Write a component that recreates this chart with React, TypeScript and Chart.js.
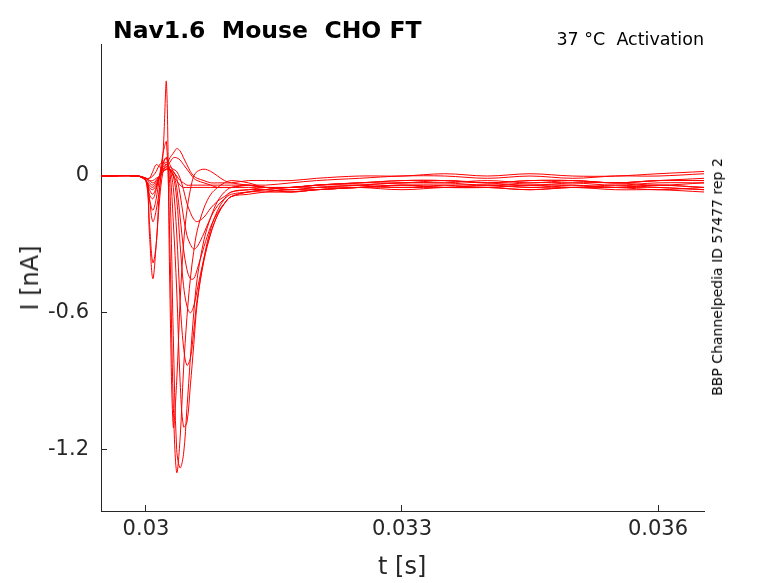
import React, { useEffect, useRef } from "react";
import { Chart, registerables } from "chart.js";
Chart.register(...registerables);

const times = [0.02948, 0.0299, 0.03, 0.03004, 0.03008, 0.03012, 0.03016, 0.0302, 0.03024, 0.03028, 0.03032, 0.03036, 0.0304, 0.03044, 0.03048, 0.03052, 0.03056, 0.0306, 0.03068, 0.03076, 0.03084, 0.03092, 0.031, 0.0312, 0.0314, 0.0317, 0.032, 0.0325, 0.033, 0.0335, 0.034, 0.0345, 0.035, 0.0355, 0.036, 0.03654];

const trace1 = [0, 0, -0.02, -0.25, -0.45, -0.3, -0.1, 0.02, 0.05, 0.03, 0, -0.02, -0.04, -0.05, -0.05, -0.05, -0.05, -0.05, -0.05, -0.05, -0.05, -0.05, -0.05, -0.05, -0.05, -0.06, -0.05, -0.04, -0.03, -0.03, -0.02, -0.03, -0.02, -0.03, -0.02, -0.01];
const trace2 = [0, 0, -0.02, -0.2, -0.38, -0.3, -0.05, 0.05, 0.08, 0.05, 0.02, 0, -0.02, -0.03, -0.04, -0.04, -0.04, -0.04, -0.04, -0.04, -0.04, -0.04, -0.04, -0.04, -0.05, -0.05, -0.04, -0.03, -0.02, -0.02, -0.03, -0.02, -0.02, -0.03, -0.02, -0.02];
const trace3 = [0, 0, -0.02, -0.1, -0.2, -0.15, -0.05, 0.1, 0.41, -0.5, -1.1, -0.9, -0.55, -0.3, -0.15, -0.06, 0, 0.02, 0.03, 0.02, 0, -0.02, -0.03, -0.04, -0.05, -0.05, -0.04, -0.03, -0.02, -0.02, -0.03, -0.02, -0.02, -0.03, -0.02, -0.02];
const trace4 = [0, 0, -0.02, -0.1, -0.15, -0.1, 0, 0.1, 0.15, -0.3, -1.0, -1.3, -1.15, -0.85, -0.62, -0.45, -0.33, -0.24, -0.14, -0.08, -0.05, -0.03, -0.02, -0.03, -0.05, -0.05, -0.04, -0.03, -0.03, -0.02, -0.03, -0.04, -0.03, -0.03, -0.04, -0.03];
const trace5 = [0, 0, -0.02, -0.08, -0.1, -0.06, 0, 0.06, 0.08, -0.05, -0.7, -1.2, -1.28, -1.22, -1.02, -0.8, -0.6, -0.45, -0.28, -0.18, -0.11, -0.07, -0.05, -0.04, -0.05, -0.06, -0.05, -0.04, -0.03, -0.03, -0.04, -0.03, -0.03, -0.04, -0.03, -0.03];
const trace6 = [0, 0, -0.02, -0.06, -0.08, -0.05, 0, 0.05, 0.06, 0.02, -0.2, -0.5, -0.9, -1.1, -1.08, -0.92, -0.74, -0.56, -0.36, -0.23, -0.15, -0.1, -0.07, -0.06, -0.06, -0.07, -0.06, -0.05, -0.04, -0.04, -0.05, -0.04, -0.04, -0.05, -0.04, -0.05];
const trace7 = [0, 0, -0.02, -0.05, -0.06, -0.04, 0, 0.04, 0.05, 0.03, -0.05, -0.25, -0.55, -0.75, -0.83, -0.8, -0.68, -0.54, -0.37, -0.25, -0.17, -0.12, -0.09, -0.07, -0.07, -0.07, -0.06, -0.05, -0.04, -0.05, -0.05, -0.04, -0.05, -0.05, -0.04, -0.05];
const trace8 = [0, 0, -0.02, -0.04, -0.05, -0.03, 0, 0.03, 0.04, 0.03, 0, -0.1, -0.3, -0.48, -0.57, -0.6, -0.57, -0.5, -0.36, -0.25, -0.17, -0.12, -0.09, -0.08, -0.07, -0.06, -0.06, -0.05, -0.05, -0.05, -0.04, -0.05, -0.05, -0.04, -0.05, -0.06];
const trace9 = [0, 0, -0.01, -0.03, -0.04, -0.02, 0, 0.02, 0.03, 0.03, 0.01, -0.05, -0.18, -0.32, -0.41, -0.45, -0.45, -0.41, -0.31, -0.22, -0.16, -0.12, -0.09, -0.07, -0.06, -0.07, -0.06, -0.05, -0.04, -0.05, -0.05, -0.06, -0.05, -0.05, -0.06, -0.05];
const trace10 = [0, 0, -0.01, -0.02, -0.03, -0.02, 0, 0.02, 0.03, 0.03, 0.02, -0.01, -0.08, -0.18, -0.26, -0.3, -0.32, -0.31, -0.25, -0.18, -0.13, -0.1, -0.08, -0.07, -0.06, -0.05, -0.05, -0.05, -0.06, -0.05, -0.05, -0.06, -0.05, -0.06, -0.06, -0.07];
const trace11 = [0, 0, -0.01, -0.02, -0.02, -0.01, 0, 0.02, 0.03, 0.04, 0.03, 0.02, -0.01, -0.06, -0.12, -0.16, -0.19, -0.2, -0.18, -0.14, -0.11, -0.09, -0.07, -0.06, -0.05, -0.05, -0.04, -0.04, -0.05, -0.04, -0.04, -0.05, -0.04, -0.05, -0.05, -0.06];
const trace12 = [0, 0, -0.01, -0.01, 0.02, 0.05, 0.04, 0.03, 0.04, 0.06, 0.08, 0.08, 0.07, 0.05, 0.03, 0.01, -0.01, -0.02, -0.03, -0.04, -0.05, -0.05, -0.05, -0.04, -0.04, -0.03, -0.02, -0.01, 0, 0, -0.01, 0, -0.01, 0, 0, 0.01];
const trace13 = [0, 0, -0.01, -0.01, 0, 0.02, 0.05, 0.06, 0.05, 0.08, 0.1, 0.12, 0.11, 0.08, 0.05, 0.02, 0, -0.01, -0.02, -0.03, -0.03, -0.03, -0.03, -0.02, -0.02, -0.02, -0.01, 0, 0, 0.01, 0, 0.01, 0, 0, 0.01, 0.02];

const traces = [trace1, trace2, trace3, trace4, trace5, trace6, trace7, trace8, trace9, trace10, trace11, trace12, trace13];
const xTicks = [0.03, 0.033, 0.036];
const yTicks = [-1.2, -0.6, 0];

export default function App() {
  const ref = useRef<HTMLCanvasElement>(null);
  useEffect(() => {
    const font = { family: "DejaVu Sans", size: 21 };
    const chart = new Chart(ref.current!, {
      type: "line",
      data: {
        datasets: traces.map((tr) => ({
          data: times.map((t, i) => ({ x: t, y: tr[i] })),
          borderColor: "#ff0000",
          borderWidth: 1,
          pointRadius: 0,
          tension: 0.35,
          fill: false,
        })),
      },
      options: {
        animation: false,
        responsive: false,
        layout: { padding: { top: 44, right: 74, left: 0, bottom: 0 } },
        plugins: { legend: { display: false }, tooltip: { enabled: false } },
        scales: {
          x: {
            type: "linear",
            min: 0.029473,
            max: 0.036539,
            afterFit: (s: any) => { s.height = 72; },
            afterBuildTicks: (s: any) => { s.ticks = xTicks.map((v) => ({ value: v })); },
            ticks: { font, color: "#262626", callback: (v: any) => String(Number(v).toFixed(3)).replace(/0+$/, "").replace(/\.$/, ""), maxRotation: 0, padding: 12 },
            grid: { display: true, drawOnChartArea: false, tickLength: -6, color: "#262626" },
            border: { color: "#262626" },
          },
          y: {
            min: -1.469,
            max: 0.579,
            afterFit: (s: any) => { s.width = 101; },
            afterBuildTicks: (s: any) => { s.ticks = yTicks.map((v) => ({ value: v })); },
            ticks: { font, color: "#262626", callback: (v: any) => String(v), padding: 18 },
            grid: { display: true, drawOnChartArea: false, tickLength: -6, color: "#262626" },
            border: { color: "#262626" },
          },
        },
      },
    });
    return () => chart.destroy();
  }, []);
  const txt: React.CSSProperties = { position: "absolute", fontFamily: "DejaVu Sans", color: "#262626", whiteSpace: "nowrap" };
  return (
    <div style={{ position: "fixed", left: 0, top: 0, width: 778, height: 583, background: "#fff" }}>
      <canvas ref={ref} width={778} height={583} style={{ position: "absolute", left: 0, top: 0 }} />
      <div style={{ ...txt, left: 113, top: 16, fontSize: 23.5, fontWeight: "bold", color: "#000" }}>Nav1.6&nbsp; Mouse&nbsp; CHO FT</div>
      <div style={{ ...txt, right: 74, top: 29, fontSize: 17.5, color: "#000" }}>37 °C&nbsp; Activation</div>
      <div style={{ ...txt, left: 378, top: 552, fontSize: 24 }}>t [s]</div>
      <div style={{ ...txt, left: 30, top: 278, fontSize: 24, transform: "translate(-50%,-50%) rotate(-90deg)" }}>I [nA]</div>
      <div style={{ ...txt, left: 717, top: 277, fontSize: 14, color: "#000", transform: "translate(-50%,-50%) rotate(-90deg)" }}>BBP Channelpedia ID 57477 rep 2</div>
    </div>
  );
}
